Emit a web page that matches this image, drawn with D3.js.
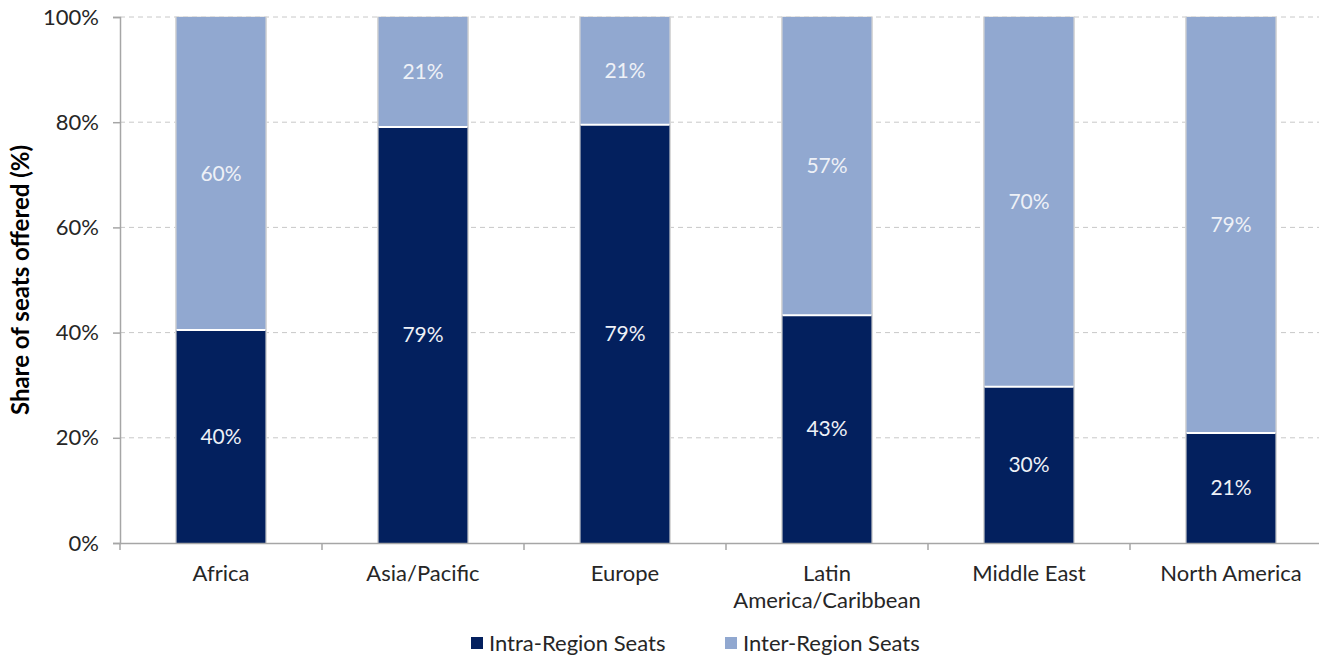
<!DOCTYPE html>
<html><head><meta charset="utf-8">
<script src="https://cdn.jsdelivr.net/npm/d3@7"></script>
<style>body{margin:0;background:#fff;}svg{display:block;font-family:Lato,"Open Sans",sans-serif;}</style>
</head><body>
<svg id="chart" width="1319" height="655"></svg>
<script>
const categories = ["Africa","Asia/Pacific","Europe","Latin America/Caribbean","Middle East","North America"];
const categoryLines = [["Africa"],["Asia/Pacific"],["Europe"],["Latin","America/Caribbean"],["Middle East"],["North America"]];
const intraValues = [40.5, 79.1, 79.5, 43.3, 29.7, 20.9];
const interValues = [59.5, 20.9, 20.5, 56.7, 70.3, 79.1];
const intraLabels = ["40%","79%","79%","43%","30%","21%"];
const interLabels = ["60%","21%","21%","57%","70%","79%"];
const yTicks = [0,20,40,60,80,100];
const seriesNames = ["Intra-Region Seats","Inter-Region Seats"];
const colors = ["#03205e","#91a8d0"];

const svg = d3.select("#chart");
const m = {left:120, top:17, bottom:543, right:1332};
const x = d3.scaleBand().domain(categories).range([m.left, m.right]).paddingInner(0.56).paddingOuter(0.28);
const y = d3.scaleLinear().domain([0,100]).range([m.bottom, m.top]);
const FS = 22;

// gridlines
svg.append("g").selectAll("line").data(yTicks.filter(d=>d>0)).join("line")
  .attr("x1", m.left).attr("x2", m.right)
  .attr("y1", d=>y(d)).attr("y2", d=>y(d))
  .attr("stroke","#c8c8c8").attr("stroke-width",1).attr("stroke-dasharray","5,4");

const stackData = categories.map((c,i)=>({cat:c, intra:intraValues[i], inter:interValues[i], il:intraLabels[i], el:interLabels[i]}));

const bars = svg.append("g");
stackData.forEach(d=>{
  const bx = x(d.cat), bw = x.bandwidth();
  bars.append("rect").attr("x",bx-1.5).attr("y",y(100)-0.5).attr("width",bw+3).attr("height",y(0)-y(100)+0.5)
    .attr("fill","#d6d6d6");
  bars.append("rect").attr("x",bx).attr("y",y(d.intra)).attr("width",bw).attr("height",y(0)-y(d.intra))
    .attr("fill",colors[0]);
  bars.append("rect").attr("x",bx).attr("y",y(100)).attr("width",bw).attr("height",y(d.intra)-y(100))
    .attr("fill",colors[1]);
  bars.append("line").attr("x1",bx).attr("x2",bx+bw).attr("y1",y(d.intra)).attr("y2",y(d.intra))
    .attr("stroke","#fff").attr("stroke-width",2);
  bars.append("text").attr("x",bx+bw/2).attr("y",y(d.intra/2)).attr("dy","0.35em")
    .attr("text-anchor","middle").attr("fill","#eef1f7").attr("font-size",21).text(d.il);
  bars.append("text").attr("x",bx+bw/2).attr("y",y(d.intra+d.inter/2)).attr("dy","0.35em")
    .attr("text-anchor","middle").attr("fill","#eef1f7").attr("font-size",21).text(d.el);
});

// y axis
const yAxis = svg.append("g").attr("transform",`translate(${m.left},0)`)
  .call(d3.axisLeft(y).tickValues(yTicks).tickFormat(d=>d+"%").tickSize(7).tickPadding(14));
yAxis.select(".domain").attr("stroke","#a6a6a6").attr("stroke-width",1.5);
yAxis.selectAll(".tick line").attr("stroke","#a6a6a6").attr("stroke-width",1.5);
yAxis.selectAll("text").attr("font-size",FS).attr("fill","#262626").attr("font-family","Lato");

// x axis
const xAxis = svg.append("g").attr("transform",`translate(0,${m.bottom})`)
  .call(d3.axisBottom(x).tickSize(0).tickFormat(""));
xAxis.select(".domain").attr("stroke","#a6a6a6").attr("stroke-width",1.5);
const step = x.step();
const bounds = d3.range(categories.length+1).map(i=>m.left + i*step);
svg.append("g").selectAll("line").data(bounds).join("line")
  .attr("x1",d=>d).attr("x2",d=>d).attr("y1",m.bottom).attr("y2",m.bottom+7)
  .attr("stroke","#a6a6a6").attr("stroke-width",1.5);
const xl = svg.append("g");
categories.forEach((c,i)=>{
  const t = xl.append("text").attr("x",x(c)+x.bandwidth()/2).attr("y",581)
    .attr("text-anchor","middle").attr("font-size",FS).attr("fill","#262626");
  categoryLines[i].forEach((ln,j)=>t.append("tspan").attr("x",x(c)+x.bandwidth()/2).attr("dy",j?27:0).text(ln));
});

// y label
svg.append("text").attr("transform","translate(29,280) rotate(-90)").attr("text-anchor","middle")
  .attr("font-size",24).attr("font-weight","bold").attr("fill","#000").text("Share of seats offered (%)");

// legend
const legX = [471, 725];
seriesNames.forEach((s,i)=>{
  svg.append("rect").attr("x",legX[i]).attr("y",637).attr("width",12).attr("height",12).attr("fill",colors[i]);
  svg.append("text").attr("x",legX[i]+18).attr("y",643).attr("dy","0.35em").attr("font-size",FS).attr("fill","#262626").text(s);
});
</script>
</body></html>
